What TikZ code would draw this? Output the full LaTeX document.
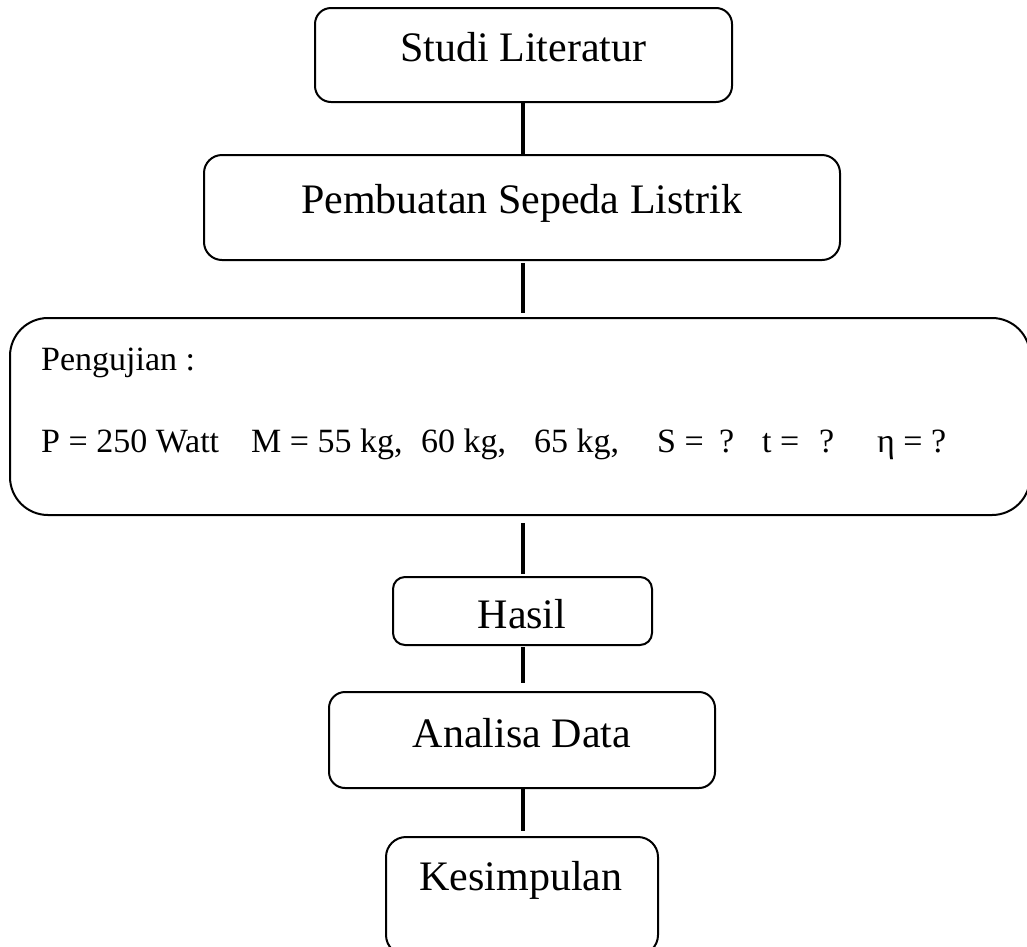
\documentclass[tikz,border=0pt]{standalone}
\usepackage{fontspec}
\setmainfont{Liberation Serif}
\begin{document}
\begin{tikzpicture}[x=1pt,y=-1pt,
  box/.style={draw, line width=2pt, rounded corners=#1, inner sep=0pt},
  box/.default=16pt,
  big/.style={inner sep=0pt, anchor=base, font=\fontsize{42}{48}\selectfont},
  small/.style={inner sep=0pt, anchor=base west, font=\fontsize{34}{40}\selectfont},
  link/.style={line width=3.2pt}]
\useasboundingbox (0,0) rectangle (1027,946);
% boxes
\node[box, minimum width=417pt, minimum height=94pt] (b1) at (523.5,55) {};
\node[box=18pt, minimum width=636pt, minimum height=105pt] (b2) at (522,207.5) {};
\node[box=38pt, minimum width=1020pt, minimum height=197pt] (b3) at (520,416.5) {};
\node[box=12pt, minimum width=259pt, minimum height=68pt] (b4) at (522.5,611) {};
\node[box, minimum width=386pt, minimum height=96pt] (b5) at (522,740) {};
\node[box=20pt, minimum width=272pt, minimum height=118pt] (b6) at (522,896) {};
% texts
\node[big] (t1) at (523.5,61) {Studi Literatur};
\node[big] (t2) at (521.5,213) {Pembuatan Sepeda Listrik};
\node[big] (t4) at (522,628) {Hasil};
\node[big] (t5) at (522,747) {Analisa Data};
\node[big] (t6) at (521,890) {Kesimpulan};
\node[small] (p0) at (41,370) {Pengujian :};
\node[small] (p1) at (41,452) {P = 250 Watt};
\node[small] (p2) at (251,452) {M = 55 kg,};
\node[small] (p3) at (421,452) {60 kg,};
\node[small] (p4) at (534,452) {65 kg,};
\node[small] (p5) at (657,452) {S =};
\node[small] (p6) at (719,452) {?};
\node[small] (p7) at (762,452) {t =};
\node[small] (p8) at (819,452) {?};
\node[small] (p9) at (877,452) {η = ?};
% connectors
\draw[link] (b1.south -| 523,0) -- (b2.north -| 523,0);
\draw[link, shorten <=2pt, shorten >=4pt] (b2.south -| 523,0) -- (b3.north -| 523,0);
\draw[link, shorten <=7pt, shorten >=2pt] (b3.south -| 523,0) -- (b4.north -| 523,0);
\draw[link, shorten <=1pt, shorten >=8pt] (b4.south -| 523,0) -- (b5.north -| 523,0);
\draw[link, shorten >=5pt] (b5.south -| 523,0) -- (b6.north -| 523,0);
\end{tikzpicture}
\end{document}
